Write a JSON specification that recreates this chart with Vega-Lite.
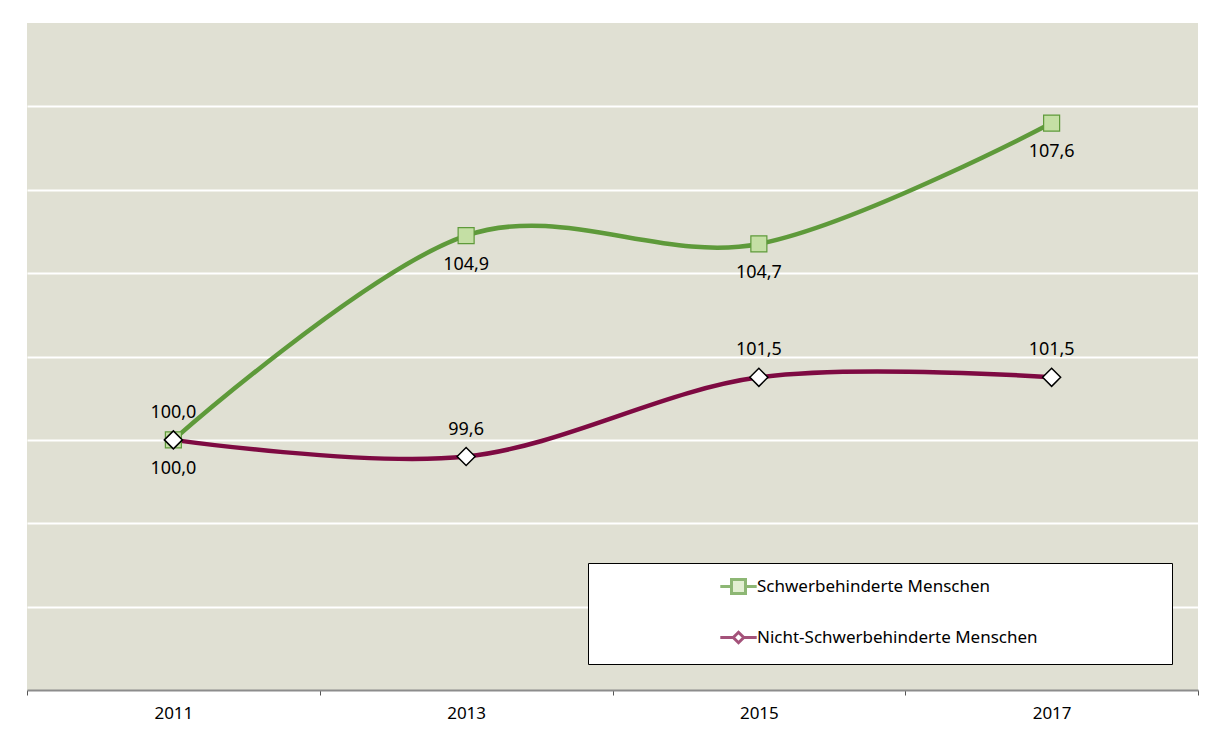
{
  "$schema": "https://vega.github.io/schema/vega-lite/v6.json",
  "width": 1171,
  "height": 667,
  "autosize": {"type": "none"},
  "padding": {"left": 27, "top": 23, "right": 14, "bottom": 54},
  "background": "white",
  "config": {
    "view": {"fill": "#E0E0D3", "stroke": null},
    "font": "Noto Sans",
    "locale": {"number": {"decimal": ",", "thousands": ".", "grouping": [3], "currency": ["", " €"]}}
  },
  "data": {
    "values": [
      {"year": "2011", "series": "Schwerbehinderte Menschen", "value": 100.0},
      {"year": "2013", "series": "Schwerbehinderte Menschen", "value": 104.9},
      {"year": "2015", "series": "Schwerbehinderte Menschen", "value": 104.7},
      {"year": "2017", "series": "Schwerbehinderte Menschen", "value": 107.6},
      {"year": "2011", "series": "Nicht-Schwerbehinderte Menschen", "value": 100.0},
      {"year": "2013", "series": "Nicht-Schwerbehinderte Menschen", "value": 99.6},
      {"year": "2015", "series": "Nicht-Schwerbehinderte Menschen", "value": 101.5},
      {"year": "2017", "series": "Nicht-Schwerbehinderte Menschen", "value": 101.5}
    ]
  },
  "encoding": {
    "x": {
      "field": "year", "type": "ordinal", "title": null,
      "scale": {"type": "band", "paddingInner": 0, "paddingOuter": 0},
      "axis": {
        "tickBand": "extent", "labelAngle": 0, "labelFontSize": 17, "labelColor": "#000000",
        "labelPadding": 10, "tickSize": 5, "tickColor": "#555555", "tickWidth": 1,
        "domainColor": "#8c8c8c", "domainWidth": 2, "grid": false
      }
    },
    "y": {
      "field": "value", "type": "quantitative", "title": null,
      "scale": {"domain": [94, 110], "nice": false, "zero": false},
      "axis": {
        "values": [96, 98, 100, 102, 104, 106, 108], "labels": false, "ticks": false, "domain": false,
        "grid": true, "gridColor": "#FFFFFF", "gridWidth": 2, "gridOpacity": 1
      }
    }
  },
  "layer": [
    {
      "mark": {"type": "line", "interpolate": "cardinal", "tension": 0, "strokeWidth": 4.5},
      "encoding": {
        "color": {
          "field": "series", "type": "nominal", "legend": null,
          "scale": {"domain": ["Nicht-Schwerbehinderte Menschen", "Schwerbehinderte Menschen"], "range": ["#7E0A42", "#5E9A3A"]}
        },
        "order": {"field": "year"}
      }
    },
    {
      "transform": [{"filter": "datum.value > 1000"}],
      "mark": {"type": "point", "filled": true, "size": 196, "strokeWidth": 3},
      "encoding": {
        "shape": {
          "field": "series", "type": "nominal",
          "scale": {"domain": ["Schwerbehinderte Menschen", "Nicht-Schwerbehinderte Menschen"],
                    "range": ["M-2.6,0H-1M1,0H2.6M-1,-1H1V1H-1Z", "M-2.6,0H-0.75M0.75,0H2.6M-0.75,0L0,-0.75L0.75,0L0,0.75Z"]},
          "legend": {
            "title": "\u00a0", "titleOrient": "right", "titlePadding": 119, "titleFontSize": 17,
            "orient": "none", "legendX": 561, "legendY": 540,
            "fillColor": "#FFFFFF", "strokeColor": "#000000", "padding": 15,
            "symbolSize": 196, "symbolStrokeWidth": 3, "symbolOffset": 127, "labelOffset": 10,
            "labelFontSize": 17, "labelColor": "#000000", "rowPadding": 26, "labelLimit": 1000
          }
        },
        "fill": {
          "field": "series", "type": "nominal",
          "scale": {"domain": ["Schwerbehinderte Menschen", "Nicht-Schwerbehinderte Menschen"], "range": ["#C4DFA4", "#FFFFFF"]}
        },
        "stroke": {
          "field": "series", "type": "nominal",
          "scale": {"domain": ["Schwerbehinderte Menschen", "Nicht-Schwerbehinderte Menschen"], "range": ["#5E9A3A", "#7E0A42"]}
        }
      }
    },
    {
      "transform": [{"filter": "datum.series === 'Schwerbehinderte Menschen'"}],
      "mark": {"type": "point", "shape": "square", "size": 256, "filled": true, "fill": "#C4DFA4", "stroke": "#5E9A3A", "strokeWidth": 1.2, "opacity": 1}
    },
    {
      "transform": [{"filter": "datum.series === 'Nicht-Schwerbehinderte Menschen'"}],
      "mark": {"type": "point", "shape": "diamond", "size": 324, "filled": true, "fill": "#FFFFFF", "stroke": "#000000", "strokeWidth": 1.5, "opacity": 1}
    },
    {
      "transform": [{"filter": "datum.series === 'Schwerbehinderte Menschen'"}],
      "mark": {"type": "text", "dy": 29, "baseline": "middle", "align": "center", "fontSize": 18, "color": "#000000"},
      "encoding": {"text": {"field": "value", "type": "quantitative", "format": ".1f"}}
    },
    {
      "transform": [{"filter": "datum.series === 'Nicht-Schwerbehinderte Menschen'"}],
      "mark": {"type": "text", "dy": -27, "baseline": "middle", "align": "center", "fontSize": 18, "color": "#000000"},
      "encoding": {"text": {"field": "value", "type": "quantitative", "format": ".1f"}}
    }
  ]
}
